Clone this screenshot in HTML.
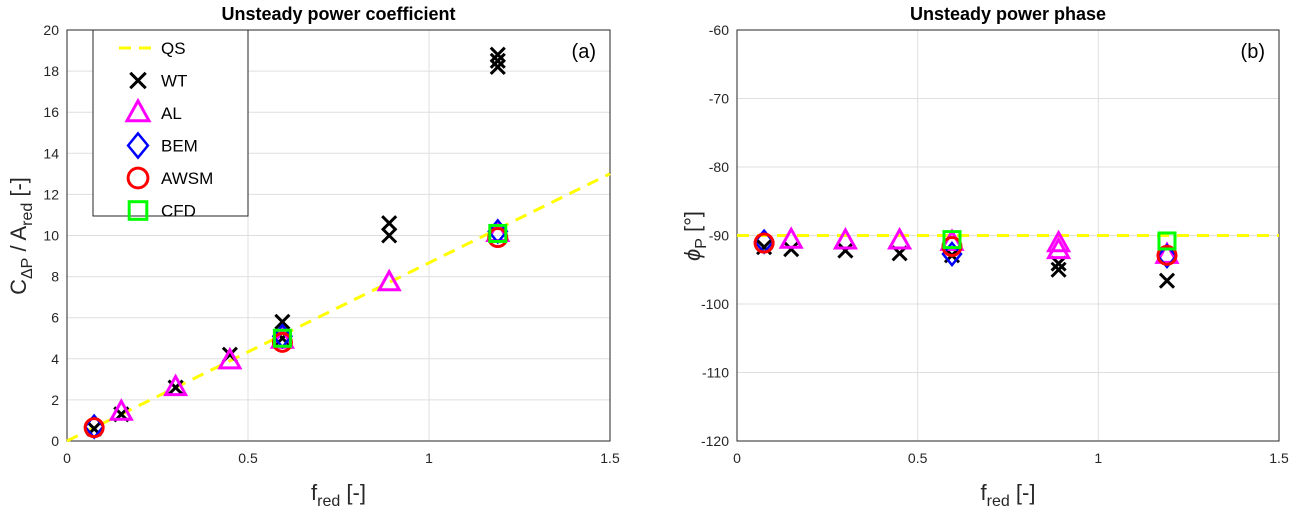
<!DOCTYPE html>
<html><head><meta charset="utf-8"><style>
body{margin:0;background:#fff;}
svg{display:block;font-family:"Liberation Sans",sans-serif;}
</style></head><body>
<svg id="chart" width="1291" height="511" viewBox="0 0 1291 511" xmlns="http://www.w3.org/2000/svg"></svg>
<script>
const qsSlope = 8.67;
// Panel a
const wtA_x = [0.075, 0.15, 0.3, 0.45, 0.595, 0.595, 0.89, 0.89, 1.19, 1.19, 1.19];
const wtA_y = [0.6, 1.3, 2.6, 4.2, 5.8, 5.0, 10.6, 10.0, 18.8, 18.5, 18.2];
const alA_x = [0.15, 0.3, 0.45, 0.595, 0.89, 1.19];
const alA_y = [1.4, 2.6, 3.9, 4.9, 7.7, 10.1];
const bemA_x = [0.075, 0.595, 1.19];
const bemA_y = [0.7, 5.1, 10.2];
const awsmA_x = [0.075, 0.595, 1.19];
const awsmA_y = [0.65, 4.8, 9.9];
const cfdA_x = [0.595, 1.19];
const cfdA_y = [5.0, 10.1];
// Panel b
const qsPhase = -90;
const wtB_x = [0.075, 0.15, 0.3, 0.45, 0.595, 0.89, 0.89, 1.19];
const wtB_y = [-91.7, -92.0, -92.2, -92.6, -92.9, -94.1, -95.0, -96.6];
const alB_x = [0.15, 0.3, 0.45, 0.595, 0.89, 0.89, 1.19];
const alB_y = [-90.7, -90.8, -90.8, -91.0, -91.2, -92.2, -92.9];
const bemB_x = [0.075, 0.595, 1.19];
const bemB_y = [-90.9, -92.7, -93.0];
const awsmB_x = [0.075, 0.595, 1.19];
const awsmB_y = [-91.1, -91.6, -92.9];
const cfdB_x = [0.595, 1.19];
const cfdB_y = [-90.6, -90.8];
const xTicks = [0, 0.5, 1, 1.5];
const xTickLabels = ['0', '0.5', '1', '1.5'];
const yTicksA = [0,2,4,6,8,10,12,14,16,18,20];
const yTicksB = [-120,-110,-100,-90,-80,-70,-60];

const svg = document.getElementById('chart');
const NS = 'http://www.w3.org/2000/svg';
function el(tag, attrs, parent){const e=document.createElementNS(NS,tag);for(const k in attrs)e.setAttribute(k,attrs[k]);(parent||svg).appendChild(e);return e;}

function panel(p){
  const g = el('g',{});
  
  
  const X = v => p.x0 + (v-0)/(1.5)*(p.x1-p.x0);
  const Y = v => p.y0 - (v-p.ymin)/(p.ymax-p.ymin)*(p.y0-p.y1);
  xTicks.forEach((t,i)=>{
    const l=el('line',{x1:X(t),x2:X(t),y1:p.y1,y2:p.y0,stroke:'#dfdfdf','stroke-width':1},g);
    
    
    const tx=el('text',{x:X(t),y:p.y0+22,'font-size':14,'text-anchor':'middle',fill:'#262626'},g);
    tx.textContent=xTickLabels[i];
    
    
  });
  p.yTicks.forEach(t=>{
    const l=el('line',{x1:p.x0,x2:p.x1,y1:Y(t),y2:Y(t),stroke:'#dfdfdf','stroke-width':1},g);
    
    
    const tx=el('text',{x:p.x0-8,y:Y(t)+5,'font-size':14,'text-anchor':'end',fill:'#262626'},g);
    tx.textContent=String(t);
    
    
  });
  const box=el('rect',{x:p.x0,y:p.y1,width:p.x1-p.x0,height:p.y0-p.y1,fill:'none',stroke:'#262626','stroke-width':1},g);
  
  
  const q=el('line',{x1:X(0),y1:Y(p.qs(0)),x2:X(1.5),y2:Y(p.qs(1.5)),stroke:'#ffff00','stroke-width':3,'stroke-dasharray':'12,8'},g);
  
  
  p.series.forEach(s=>{
    s.xv.forEach((xv,i)=>{
      const m=marker(s.type,X(xv),Y(s.yv[i]),g,1);
      
      
    });
  });
  const t=el('text',{x:(p.x0+p.x1)/2,y:20,'font-size':18,'font-weight':'bold','text-anchor':'middle',fill:'#000'},g);
  t.textContent=p.title;
  
  
  const pl=el('text',{x:p.x1-14,y:58,'font-size':20,'text-anchor':'end',fill:'#000'},g);
  pl.textContent=p.label;
  
  
  const xl=el('text',{x:(p.x0+p.x1)/2,y:500,'font-size':22,'text-anchor':'middle',fill:'#262626'},g);
  xl.innerHTML='f<tspan font-size="16" dy="6">red</tspan><tspan dy="-6"> [-]</tspan>';
  
  
  return g;
}
function marker(type,x,y,g,s){
  if(type==='wt'){const gg=el('g',{},g);el('path',{d:`M${x-7*s} ${y-7*s}L${x+7*s} ${y+7*s}M${x-7*s} ${y+7*s}L${x+7*s} ${y-7*s}`,stroke:'#000','stroke-width':3},gg);return gg;}
  if(type==='al')return el('path',{d:`M${x} ${y-11*s}L${x+10*s} ${y+7*s}L${x-10*s} ${y+7*s}Z`,fill:'none',stroke:'#ff00ff','stroke-width':3},g);
  if(type==='bem')return el('path',{d:`M${x} ${y-11*s}L${x+9*s} ${y}L${x} ${y+11*s}L${x-9*s} ${y}Z`,fill:'none',stroke:'#0000ff','stroke-width':2.5},g);
  if(type==='awsm')return el('circle',{cx:x,cy:y,r:9*s,fill:'none',stroke:'#ff0000','stroke-width':3},g);
  return el('rect',{x:x-8*s,y:y-8*s,width:16*s,height:16*s,fill:'none',stroke:'#00ff00','stroke-width':3},g);
}
panel({name:'power-coefficient-panel',x0:67,x1:610,y0:441,y1:30,ymin:0,ymax:20,yTicks:yTicksA,qs:f=>qsSlope*f,
  title:'Unsteady power coefficient',label:'(a)',
  series:[{type:'wt',xv:wtA_x,yv:wtA_y},{type:'al',xv:alA_x,yv:alA_y},{type:'bem',xv:bemA_x,yv:bemA_y},{type:'awsm',xv:awsmA_x,yv:awsmA_y},{type:'cfd',xv:cfdA_x,yv:cfdA_y}]});
panel({name:'power-phase-panel',x0:737,x1:1279,y0:441,y1:30,ymin:-120,ymax:-60,yTicks:yTicksB,qs:f=>qsPhase,
  title:'Unsteady power phase',label:'(b)',
  series:[{type:'wt',xv:wtB_x,yv:wtB_y},{type:'al',xv:alB_x,yv:alB_y},{type:'bem',xv:bemB_x,yv:bemB_y},{type:'awsm',xv:awsmB_x,yv:awsmB_y},{type:'cfd',xv:cfdB_x,yv:cfdB_y}]});
const ya=el('text',{transform:'translate(26,236) rotate(-90)','font-size':22,'text-anchor':'middle',fill:'#262626'});
ya.innerHTML='C<tspan font-size="16" dy="6">ΔP</tspan><tspan dy="-6"> / A</tspan><tspan font-size="16" dy="6">red</tspan><tspan dy="-6"> [-]</tspan>';


const yb=el('text',{transform:'translate(700,236) rotate(-90)','font-size':22,'text-anchor':'middle',fill:'#262626'});
yb.innerHTML='<tspan font-style="italic">ϕ</tspan><tspan font-size="16" dy="6">P</tspan><tspan dy="-6"> [°]</tspan>';


const lg=el('g',{});


el('rect',{x:93,y:30,width:155,height:186,fill:'#fff',stroke:'#262626','stroke-width':1},lg);
const names=['QS','WT','AL','BEM','AWSM','CFD'];
const types=['qs','wt','al','bem','awsm','cfd'];
names.forEach((n,i)=>{
  const y=48+i*32.5;
  let m;
  if(types[i]==='qs'){m=el('line',{x1:119,x2:155,y1:y,y2:y,stroke:'#ffff00','stroke-width':3,'stroke-dasharray':'12,8'},lg);}
  else m=marker(types[i],138,y,lg,1.1);
  
  
  const t=el('text',{x:161,y:y+6,'font-size':17,fill:'#000'},lg);
  t.textContent=n;
  
  
});
</script>
</body></html>
